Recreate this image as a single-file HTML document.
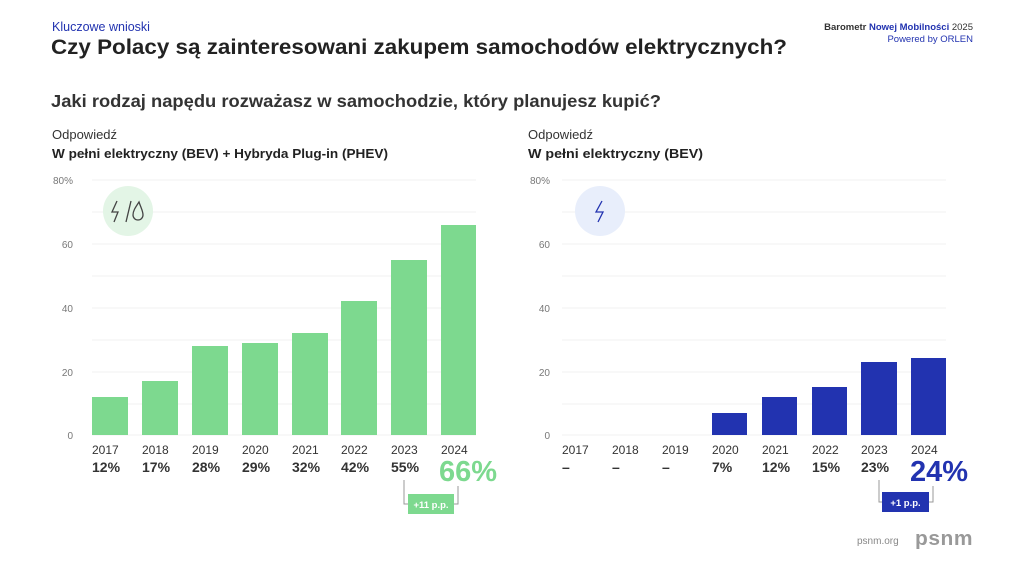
<!DOCTYPE html>
<html><head><meta charset="utf-8"><style>
html,body{margin:0;padding:0;background:#fff;}
svg{display:block;font-family:"Liberation Sans",sans-serif;}
</style></head><body>
<svg width="1024" height="576" viewBox="0 0 1024 576" xmlns="http://www.w3.org/2000/svg">
<rect width="1024" height="576" fill="#fff"/>
<text x="52" y="31" font-size="12.5" fill="#2233b0">Kluczowe wnioski</text>
<text x="51" y="54" font-size="21.5" font-weight="bold" fill="#222" textLength="736" lengthAdjust="spacingAndGlyphs">Czy Polacy są zainteresowani zakupem samochodów elektrycznych?</text>
<text x="51" y="107" font-size="17.5" font-weight="bold" fill="#333" textLength="610" lengthAdjust="spacingAndGlyphs">Jaki rodzaj napędu rozważasz w samochodzie, który planujesz kupić?</text>
<text x="973" y="30" font-size="9.5" text-anchor="end" fill="#333"><tspan font-weight="bold">Barometr </tspan><tspan font-weight="bold" fill="#2233b0">Nowej Mobilności</tspan> 2025</text>
<text x="973" y="42" font-size="9.5" text-anchor="end" fill="#2233b0">Powered by ORLEN</text>

<text x="52" y="139" font-size="13" fill="#333">Odpowiedź</text>
<text x="52" y="158" font-size="13" font-weight="bold" fill="#222" textLength="336" lengthAdjust="spacingAndGlyphs">W pełni elektryczny (BEV) + Hybryda Plug-in (PHEV)</text>
<text x="528" y="139" font-size="13" fill="#333">Odpowiedź</text>
<text x="528" y="158" font-size="13" font-weight="bold" fill="#222" textLength="175" lengthAdjust="spacingAndGlyphs">W pełni elektryczny (BEV)</text>

<g stroke="#f0f0f0" stroke-width="1">
<line x1="92" x2="476" y1="180" y2="180"/><line x1="92" x2="476" y1="212" y2="212"/><line x1="92" x2="476" y1="244" y2="244"/><line x1="92" x2="476" y1="276" y2="276"/><line x1="92" x2="476" y1="308" y2="308"/><line x1="92" x2="476" y1="340" y2="340"/><line x1="92" x2="476" y1="372" y2="372"/><line x1="92" x2="476" y1="404" y2="404"/><line x1="92" x2="476" y1="435" y2="435"/>
<line x1="562" x2="946" y1="180" y2="180"/><line x1="562" x2="946" y1="212" y2="212"/><line x1="562" x2="946" y1="244" y2="244"/><line x1="562" x2="946" y1="276" y2="276"/><line x1="562" x2="946" y1="308" y2="308"/><line x1="562" x2="946" y1="340" y2="340"/><line x1="562" x2="946" y1="372" y2="372"/><line x1="562" x2="946" y1="404" y2="404"/><line x1="562" x2="946" y1="435" y2="435"/>
</g>
<g font-size="10" fill="#777" text-anchor="end">
<text x="73" y="184">80%</text><text x="73" y="248">60</text><text x="73" y="312">40</text><text x="73" y="376">20</text><text x="73" y="439">0</text>
<text x="550" y="184">80%</text><text x="550" y="248">60</text><text x="550" y="312">40</text><text x="550" y="376">20</text><text x="550" y="439">0</text>
</g>

<circle cx="128" cy="211" r="25" fill="#e3f5e6"/>
<g fill="none" stroke="#444" stroke-width="1.3">
<polyline points="117,201 112,212 118,212 114,222"/>
<line x1="126" y1="222" x2="131" y2="201"/>
<path d="M139,202 C135,208 133,211 133,215 A5,5 0 0 0 143,215 C143,211 141,208 139,202 Z"/>
</g>
<circle cx="600" cy="211" r="25" fill="#e8eefb"/>
<polyline points="602,201 596,212 603,212 598,222" fill="none" stroke="#2233b0" stroke-width="1.3"/>

<g fill="#7dd98f">
<rect x="92" y="397" width="36" height="38"/>
<rect x="142" y="381" width="36" height="54"/>
<rect x="192" y="346" width="36" height="89"/>
<rect x="242" y="343" width="36" height="92"/>
<rect x="292" y="333" width="36" height="102"/>
<rect x="341" y="301" width="36" height="134"/>
<rect x="391" y="260" width="36" height="175"/>
<rect x="441" y="225" width="35" height="210"/>
</g>
<g fill="#2233b0">
<rect x="712" y="413" width="35" height="22"/>
<rect x="762" y="397" width="35" height="38"/>
<rect x="812" y="387" width="35" height="48"/>
<rect x="861" y="362" width="36" height="73"/>
<rect x="911" y="358" width="35" height="77"/>
</g>

<g font-size="12" fill="#333">
<text x="92" y="454">2017</text><text x="142" y="454">2018</text><text x="192" y="454">2019</text><text x="242" y="454">2020</text><text x="292" y="454">2021</text><text x="341" y="454">2022</text><text x="391" y="454">2023</text><text x="441" y="454">2024</text>
<text x="562" y="454">2017</text><text x="612" y="454">2018</text><text x="662" y="454">2019</text><text x="712" y="454">2020</text><text x="762" y="454">2021</text><text x="812" y="454">2022</text><text x="861" y="454">2023</text><text x="911" y="454">2024</text>
</g>
<g font-size="14" font-weight="bold" fill="#333">
<text x="92" y="472">12%</text><text x="142" y="472">17%</text><text x="192" y="472">28%</text><text x="242" y="472">29%</text><text x="292" y="472">32%</text><text x="341" y="472">42%</text><text x="391" y="472">55%</text>
<text x="562" y="472">–</text><text x="612" y="472">–</text><text x="662" y="472">–</text><text x="712" y="472">7%</text><text x="762" y="472">12%</text><text x="812" y="472">15%</text><text x="861" y="472">23%</text>
</g>
<text x="439" y="481" font-size="29" font-weight="bold" fill="#7dd98f">66%</text>
<text x="910" y="481" font-size="29" font-weight="bold" fill="#2233b0">24%</text>

<g fill="none" stroke="#999" stroke-width="1">
<polyline points="404,480 404,504 409,504"/><polyline points="458,486 458,504 453,504"/>
<polyline points="879,480 879,502 884,502"/><polyline points="933,486 933,502 928,502"/>
</g>
<rect x="408" y="494" width="46" height="20" fill="#7dd98f"/>
<text x="431" y="508" font-size="9.5" font-weight="bold" fill="#fff" text-anchor="middle">+11 p.p.</text>
<rect x="882" y="492" width="47" height="20" fill="#2233b0"/>
<text x="905.5" y="506" font-size="9.5" font-weight="bold" fill="#fff" text-anchor="middle">+1 p.p.</text>

<text x="857" y="544" font-size="10" fill="#888">psnm.org</text>
<text x="915" y="545" font-size="20" font-weight="bold" fill="#999" letter-spacing="0.5" textLength="58" lengthAdjust="spacingAndGlyphs">psnm</text>
</svg>
</body></html>
